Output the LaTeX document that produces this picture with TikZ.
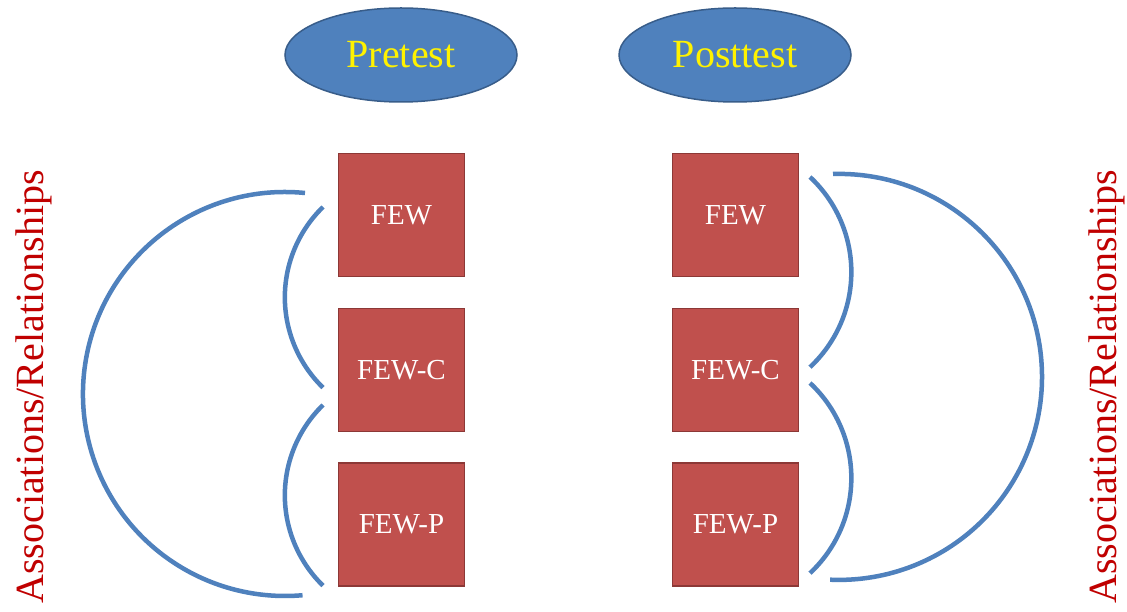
\documentclass[tikz,border=0pt]{standalone}
\usepackage{fontspec}
\setmainfont{Liberation Serif}
\newfontfamily\tnr{Liberation Serif}
\usetikzlibrary{shapes.geometric}
\definecolor{arcblue}{HTML}{4F81BD}
\definecolor{ellfill}{HTML}{4F81BD}
\definecolor{elldraw}{HTML}{385D8A}
\definecolor{boxfill}{HTML}{C0504D}
\definecolor{boxdraw}{HTML}{8C3836}
\definecolor{labred}{HTML}{C00000}
\begin{document}
\begin{tikzpicture}[x=1pt,y=1pt,
  testell/.style={ellipse, fill=ellfill, draw=elldraw, line width=1.5pt,
    minimum width=232pt, minimum height=94pt, inner sep=0pt,
    text=yellow, font=\tnr\fontsize{40}{40}\selectfont},
  fewbox/.style={rectangle, fill=boxfill, draw=boxdraw, line width=1.5pt,
    minimum width=126pt, minimum height=123pt, inner sep=0pt,
    text=white, font=\tnr\fontsize{29}{29}\selectfont},
  vlabel/.style={rotate=90, anchor=base, text=labred, inner sep=0pt,
    font=\tnr\fontsize{40}{40}\selectfont},
  rel/.style={draw=arcblue, line width=4.5pt}]
\useasboundingbox (0,0) rectangle (1127,611);
\fill[white] (0,0) rectangle (1127,611);
% ellipses
\node[testell] (pre) at (401,556) {Pretest};
\node[testell] (post) at (735,556) {Posttest};
% boxes
\node[fewbox] (lfew) at (401.5,396) {FEW};
\node[fewbox] (lfewc) at (401.5,241) {FEW-C};
\node[fewbox] (lfewp) at (401.5,86.5) {FEW-P};
\node[fewbox] (rfew) at (735.5,396) {FEW};
\node[fewbox] (rfewc) at (735.5,241) {FEW-C};
\node[fewbox] (rfewp) at (735.5,86.5) {FEW-P};
% vertical labels
\node[vlabel] (lrel) at (43,224) {Associations/Relationships};
\node[vlabel] (rrel) at (1116,224) {Associations/Relationships};
% arc start coordinates
\coordinate (lbig) at (305,418);
\coordinate (lsa) at (323,404);
\coordinate (lsb) at (323,206);
\coordinate (rsa) at (810,434);
\coordinate (rsb) at (810,228);
\coordinate (rbig) at (833,437);
% left arcs
\draw[rel] (lbig) arc[start angle=84.3, end angle=275, radius=202];
\draw[rel] (lsa) arc[start angle=134.2, end angle=225.8, radius=126];
\draw[rel] (lsb) arc[start angle=134.2, end angle=225.8, radius=126];
% right arcs
\draw[rel] (rsa) arc[start angle=47, end angle=-47, radius=130];
\draw[rel] (rsb) arc[start angle=47, end angle=-47, radius=130];
\draw[rel] (rbig) arc[start angle=91.7, end angle=-92.5, radius=203];
\end{tikzpicture}
\end{document}
